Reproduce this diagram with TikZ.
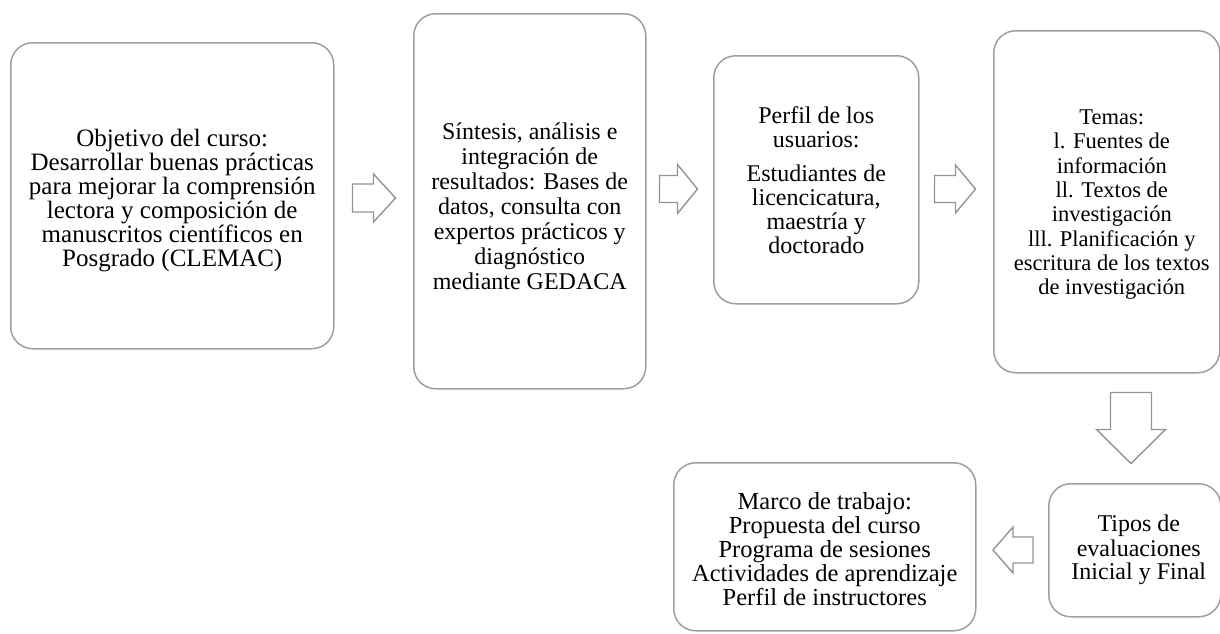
\documentclass[tikz,border=0pt]{standalone}
\usepackage{fontspec}
\setmainfont{Liberation Serif}
\newcommand{\fsz}[2]{\fontsize{#1}{#2}\selectfont}
\begin{document}
\begin{tikzpicture}[x=1pt,y=-1pt,
  box/.style={draw=black!38, line width=1.5pt, rounded corners=22pt, anchor=north west,
    align=center, inner sep=0pt},
  label/.style={align=center, inner sep=0pt},
  barrow/.style={draw=black!42, line width=1.4pt, line join=miter, fill=white}]
\useasboundingbox (0,0) rectangle (1220,633);
\node[box, minimum width=323pt, minimum height=306pt] (b1) at (10,42) {};
\node[label, font=\fsz{25}{24}] (t1) at ([yshift=-5pt]b1.center)
  {Objetivo del curso:\\Desarrollar buenas prácticas\\para mejorar la comprensión\\lectora y composición de\\manuscritos científicos en\\Posgrado (CLEMAC)};
\node[box, minimum width=232pt, minimum height=375pt] (b2) at (413,13) {};
\node[label, font=\fsz{24}{25}] (t2) at ([yshift=-5pt]b2.center)
  {Síntesis, análisis e\\integración de\\resultados: Bases de\\datos, consulta con\\expertos prácticos y\\diagnóstico\\mediante GEDACA};
\node[box, minimum width=205pt, minimum height=248pt, font=\fsz{24}{24}] (b3) at (713,55)
  {Perfil de los\\usuarios:\\[10pt]Estudiantes de\\licencicatura,\\maestría y\\doctorado};
\node[box, minimum width=226pt, minimum height=342pt] (b4) at (993,30) {};
\node[label, font=\fsz{22.5}{24.3}] (t4) at ([xshift=5pt,yshift=-3pt]b4.center)
  {Temas:\\l. Fuentes de\\información\\ll. Textos de\\investigación\\lll. Planificación y\\escritura de los textos\\de investigación};
\node[box, minimum width=172pt, minimum height=133pt] (b5) at (1048,483) {};
\node[label, font=\fsz{24}{24}] (t5) at ([xshift=4pt]b5.center)
  {Tipos de\\evaluaciones\\Inicial y Final};
\node[box, minimum width=302pt, minimum height=168pt] (b6) at (673,462) {};
\node[label, font=\fsz{24.5}{24}] (t6) at ([yshift=-2pt]b6.center)
  {Marco de trabajo:\\Propuesta del curso\\Programa de sesiones\\Actividades de aprendizaje\\Perfil de instructores};
% block arrows between named boxes
\draw[barrow] ([xshift=18pt]b1.east |- 0,198) ++(0,-14) -- ++(21,0) -- ++(0,-10) -- ++(22,24) -- ++(-22,24) -- ++(0,-10) -- ++(-21,0) -- cycle;
\draw[barrow] ([xshift=13pt]b2.east |- 0,189) ++(0,-13.5) -- ++(18,0) -- ++(0,-11) -- ++(20,24.5) -- ++(-20,24.5) -- ++(0,-11) -- ++(-18,0) -- cycle;
\draw[barrow] ([xshift=15pt]b3.east |- 0,189) ++(0,-13.5) -- ++(21,0) -- ++(0,-10.5) -- ++(20,24) -- ++(-20,24) -- ++(0,-10.5) -- ++(-21,0) -- cycle;
\draw[barrow] ([yshift=-19pt]b4.south -| 1131,0) ++(-20.5,0) -- ++(0,37) -- ++(-14,0) -- ++(34.5,34) -- ++(34.5,-34) -- ++(-14,0) -- ++(0,-37) -- cycle;
\draw[barrow] ([xshift=-15pt]b5.west |- 0,550) ++(0,-13) -- ++(-20,0) -- ++(0,-10) -- ++(-20,23) -- ++(20,23) -- ++(0,-10) -- ++(20,0) -- cycle;
\end{tikzpicture}
\end{document}
